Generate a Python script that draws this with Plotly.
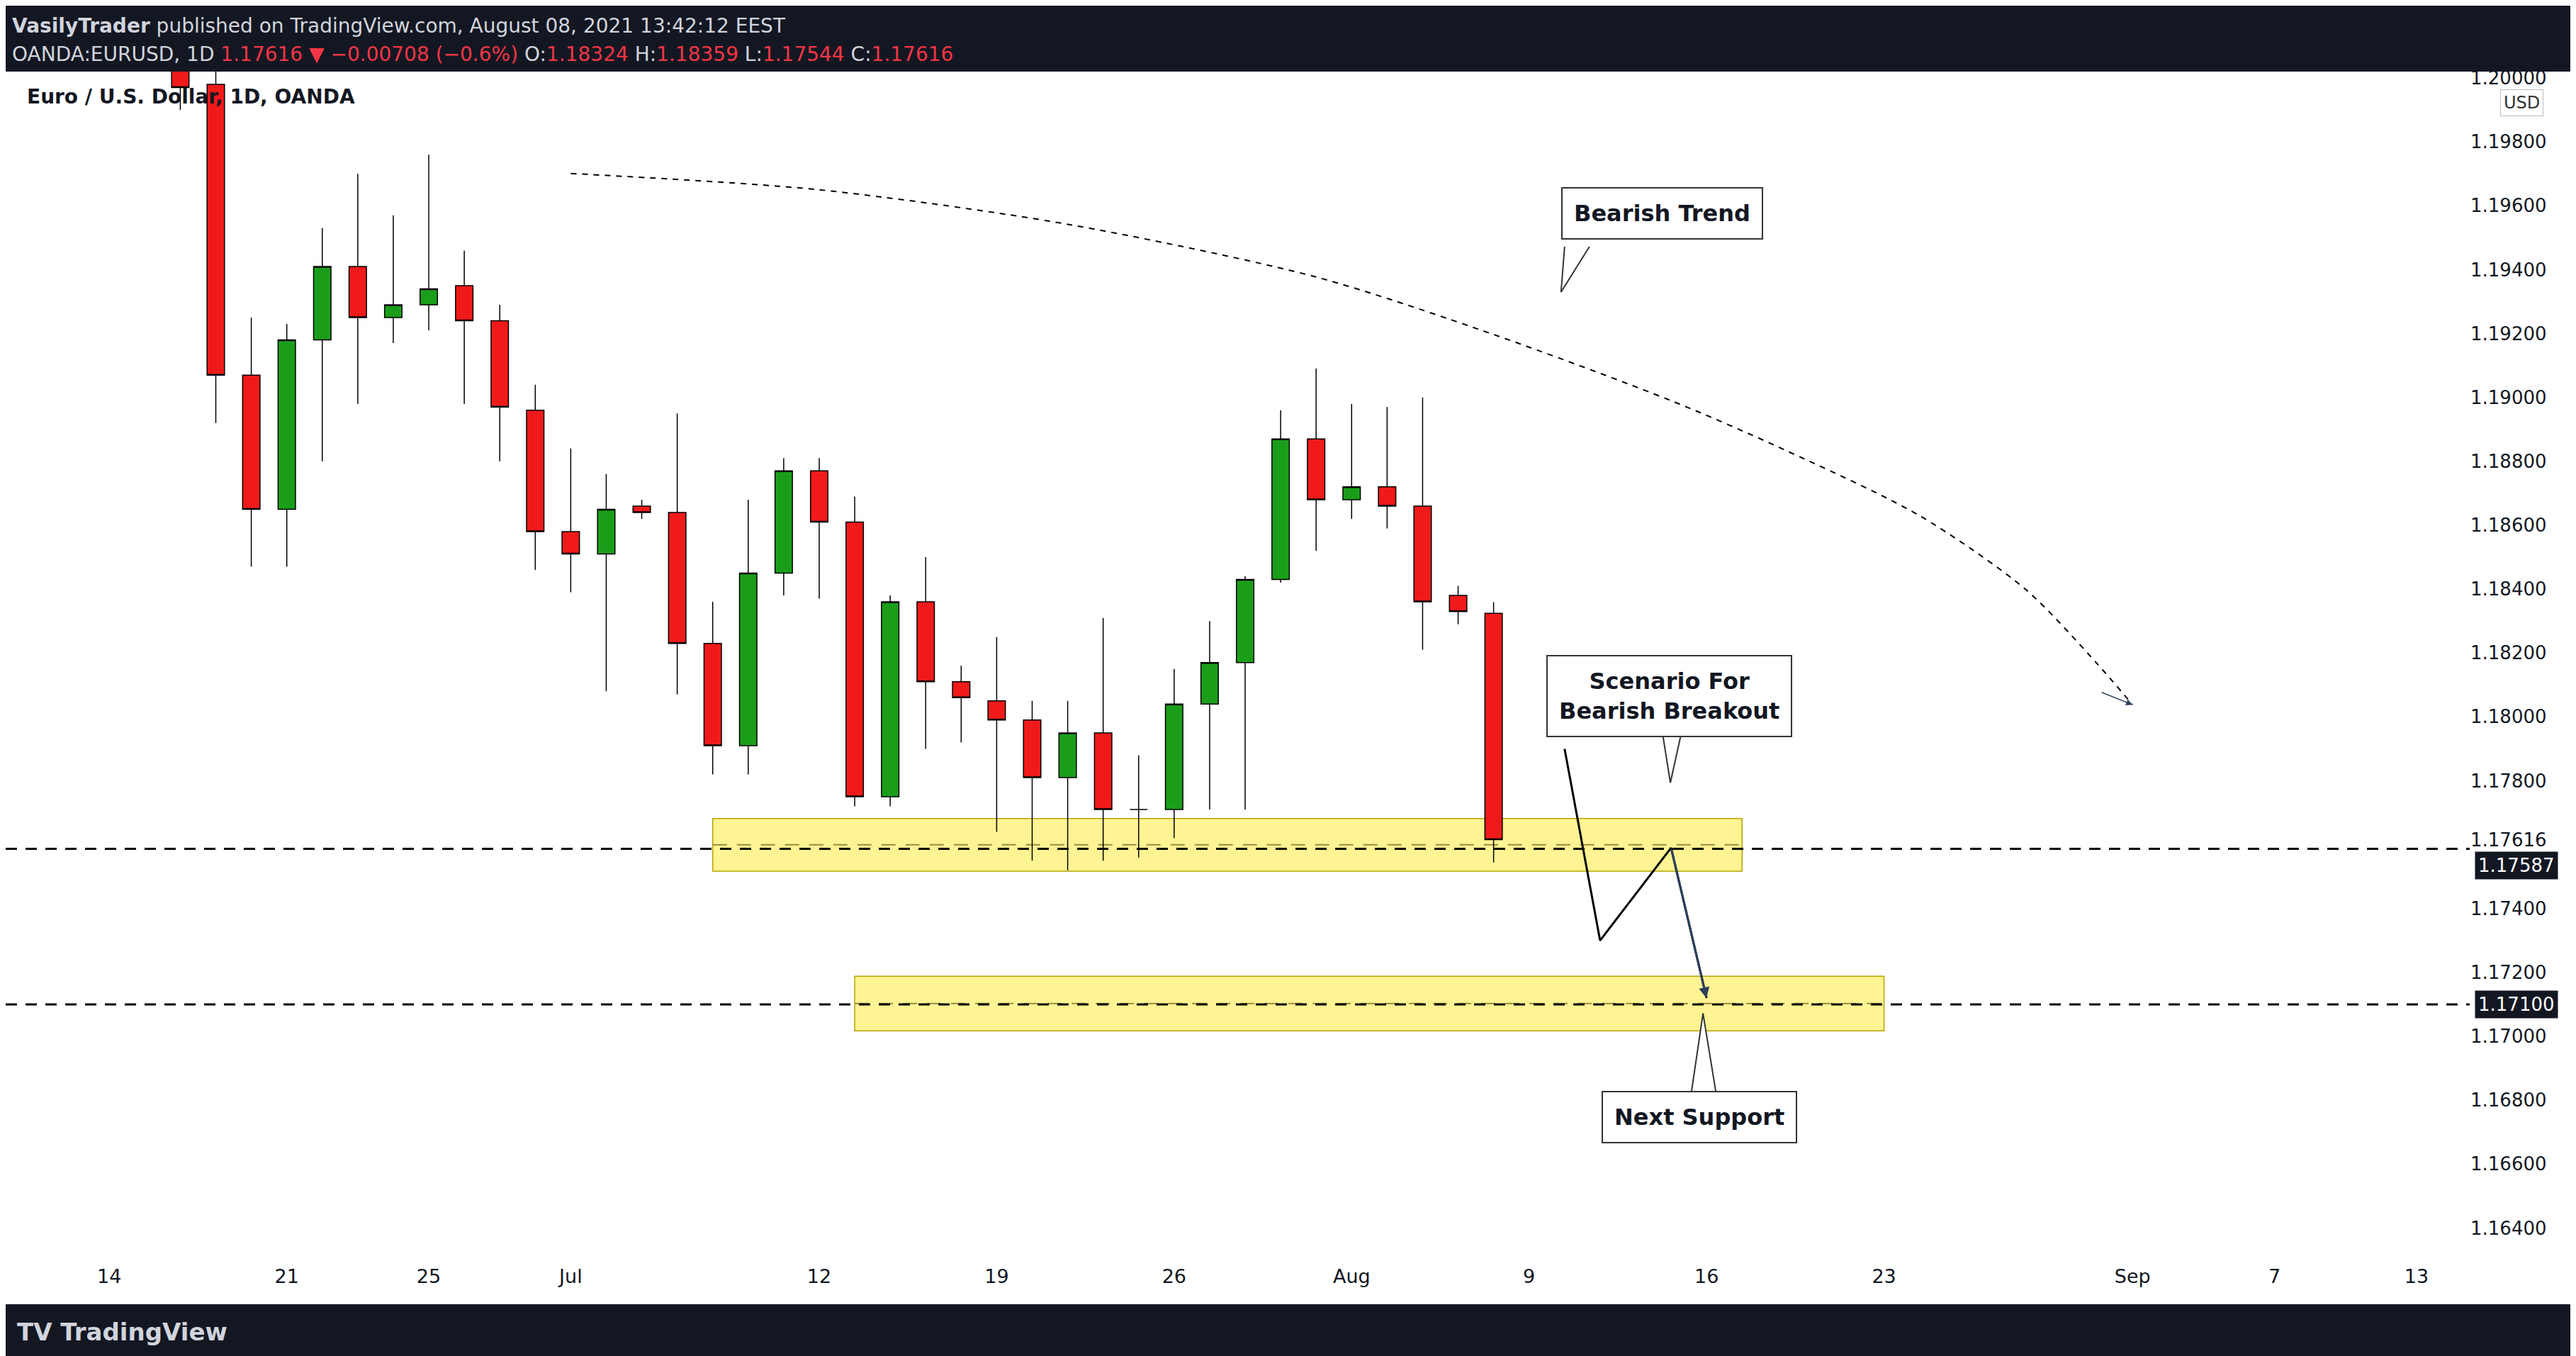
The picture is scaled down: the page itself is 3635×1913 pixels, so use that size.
import plotly.graph_objects as go
import pandas as pd

dates = ["2021-06-16","2021-06-17","2021-06-18","2021-06-21","2021-06-22","2021-06-23","2021-06-24","2021-06-25",
         "2021-06-28","2021-06-29","2021-06-30","2021-07-01","2021-07-02","2021-07-05","2021-07-06","2021-07-07",
         "2021-07-08","2021-07-09","2021-07-12","2021-07-13","2021-07-14","2021-07-15","2021-07-16","2021-07-19",
         "2021-07-20","2021-07-21","2021-07-22","2021-07-23","2021-07-26","2021-07-27","2021-07-28","2021-07-29",
         "2021-07-30","2021-08-02","2021-08-03","2021-08-04","2021-08-05","2021-08-06"]
opens  = [1.2124,1.1998,1.1907,1.1865,1.1918,1.1941,1.1925,1.1929,1.1935,1.1924,1.1896,1.1858,1.1851,1.1866,1.1864,1.1823,
          1.1791,1.1845,1.1877,1.1861,1.1775,1.1836,1.1811,1.1805,1.1799,1.1781,1.1795,1.1771,1.1771,1.1804,1.1817,1.1843,
          1.1887,1.1868,1.1872,1.1866,1.1838,1.18324]
highs  = [1.2140,1.2002,1.1925,1.1923,1.1953,1.1970,1.1957,1.1976,1.1946,1.1929,1.1904,1.1884,1.1876,1.1868,1.1895,1.1836,
          1.1868,1.1881,1.1881,1.1869,1.1838,1.1850,1.1816,1.1825,1.1805,1.1805,1.1831,1.1788,1.1815,1.1830,1.1844,1.1896,
          1.1909,1.1898,1.1897,1.1900,1.1841,1.18359]
lows   = [1.1990,1.1892,1.1847,1.1847,1.1880,1.1898,1.1917,1.1921,1.1898,1.1880,1.1846,1.1839,1.1808,1.1862,1.1807,1.1782,
          1.1782,1.1838,1.1837,1.1772,1.1772,1.1790,1.1792,1.1764,1.1755,1.1752,1.1755,1.1756,1.1762,1.1771,1.1771,1.1842,
          1.1852,1.1862,1.1859,1.1821,1.1829,1.17544]
closes = [1.1997,1.1907,1.1865,1.1918,1.1941,1.1925,1.1929,1.1934,1.1924,1.1897,1.1858,1.1851,1.1865,1.1864,1.1823,1.1791,
          1.1845,1.1877,1.1861,1.1775,1.1836,1.1811,1.1806,1.1799,1.1781,1.1795,1.1771,1.1771,1.1804,1.1817,1.1843,1.1887,
          1.1868,1.1872,1.1866,1.1836,1.1833,1.17616]

tick_dates = ["2021-06-14","2021-06-21","2021-06-25","2021-07-01","2021-07-12","2021-07-19","2021-07-26","2021-08-02",
              "2021-08-09","2021-08-16","2021-08-23","2021-09-01","2021-09-07","2021-09-13"]
tick_labels = ["14","21","25","Jul","12","19","26","Aug","9","16","23","Sep","7","13"]
price_ticks = [1.164,1.166,1.168,1.170,1.172,1.174,1.17616,1.178,1.180,1.182,1.184,1.186,1.188,1.190,1.192,1.194,1.196,1.198,1.200]
price_tick_labels = ["1.16400","1.16600","1.16800","1.17000","1.17200","1.17400","1.17616","1.17800","1.18000","1.18200",
                     "1.18400","1.18600","1.18800","1.19000","1.19200","1.19400","1.19600","1.19800","1.20000"]

support_levels = [1.17587, 1.17100]
zone1 = ("2021-07-07", "2021-08-17", 1.17517, 1.17682)
zone2 = ("2021-07-13", "2021-08-23", 1.17017, 1.17188)
trend_dates = ["2021-07-01","2021-07-12","2021-07-21","2021-07-30","2021-08-06","2021-08-13","2021-08-18",
               "2021-08-24","2021-08-27","2021-08-31","2021-09-01"]
trend_prices = [1.19701,1.19650,1.19542,1.19377,1.19197,1.18990,1.18846,1.18630,1.18398,1.18167,1.18038]
scen_dates = ["2021-08-10","2021-08-11","2021-08-13","2021-08-16"]
scen_prices = [1.1790,1.1730,1.1759,1.1712]

base = pd.Timestamp("2021-06-14")
def idx(d):
    return len(pd.bdate_range(base, pd.Timestamp(d))) - 1

xs = [idx(d) for d in dates]

GREEN, RED = "#1a9e1a", "#f01a1a"
fig = go.Figure()
fig.add_trace(go.Candlestick(x=xs, open=opens, high=highs, low=lows, close=closes,
    increasing=dict(line=dict(color="black", width=1.5), fillcolor=GREEN),
    decreasing=dict(line=dict(color="black", width=1.5), fillcolor=RED),
    whiskerwidth=0, showlegend=False, hoverinfo="skip"))

for z in (zone1, zone2):
    fig.add_shape(type="rect", x0=idx(z[0]), x1=idx(z[1]), y0=z[2], y1=z[3],
                  fillcolor="rgba(255,235,59,0.55)", line=dict(color="#b8a200", width=1.5), layer="below")
    fig.add_shape(type="line", x0=idx(z[0]), x1=idx(z[1]), y0=(z[2]+z[3])/2, y1=(z[2]+z[3])/2,
                  line=dict(color="#9a8a40", width=2, dash="20px,14px"), layer="below")
for lv in support_levels:
    fig.add_shape(type="line", xref="paper", x0=0, x1=1, y0=lv, y1=lv,
                  line=dict(color="black", width=3, dash="16px,12px"))

tx_ = [idx(d) for d in trend_dates]
fig.add_trace(go.Scatter(x=tx_, y=trend_prices, mode="lines", line=dict(color="black", width=2, dash="8px,8px", shape="spline", smoothing=0.8),
                         showlegend=False, hoverinfo="skip"))
fig.add_annotation(x=tx_[-1], y=trend_prices[-1], ax=tx_[-1]-0.9, ay=trend_prices[-1]+0.0004, axref="x", ayref="y",
                   showarrow=True, arrowhead=2, arrowwidth=1.5, arrowsize=1.2, text="")
sx = [idx(d) for d in scen_dates]
fig.add_trace(go.Scatter(x=sx, y=scen_prices, mode="lines", line=dict(color="black", width=3),
                         showlegend=False, hoverinfo="skip"))
fig.add_annotation(x=sx[-1], y=scen_prices[-1], ax=sx[-2], ay=scen_prices[-2], axref="x", ayref="y",
                   showarrow=True, arrowhead=2, arrowwidth=3, arrowsize=1, text="")

def callout(x, y, text, tail):
    fig.add_shape(type="path", path=tail, line=dict(color="#333", width=2), fillcolor="white")
    fig.add_annotation(x=x, y=y, text=text, showarrow=False, font=dict(size=32, color="#131722", family="DejaVu Sans"),
                       bgcolor="white", bordercolor="#333", borderwidth=2, borderpad=16)
callout(43.75, 1.19577, "<b>Bearish Trend</b>", "M 41.0,1.19472 L 40.9,1.19330 L 41.7,1.19472")
callout(43.95, 1.18065, "<b>Scenario For<br>Bearish Breakout</b>", "M 43.75,1.17955 L 43.98,1.17794 L 44.3,1.17955")
callout(44.8, 1.16747, "<b>Next Support</b>", "M 44.54,1.16800 L 44.9,1.17072 L 45.3,1.16800")

fig.add_annotation(xref="paper", x=1.002, y=1.17587, yshift=-24, xanchor="left", text="1.17587", showarrow=False,
                   bgcolor="#131722", font=dict(color="white", size=26), borderpad=4)
fig.add_annotation(xref="paper", x=1.002, y=1.17100, xanchor="left", text="1.17100", showarrow=False,
                   bgcolor="#131722", font=dict(color="white", size=26), borderpad=4)
fig.add_annotation(xref="paper", yref="paper", x=1.030, y=0.985, xanchor="right", text="USD", showarrow=False,
                   bordercolor="#bbb", borderwidth=1, borderpad=4, font=dict(color="#333", size=24))

fig.add_annotation(xref="paper", yref="paper", x=0.002, y=1, yshift=46, xanchor="left", yanchor="bottom", showarrow=False,
                   text="<b>VasilyTrader</b> published on TradingView.com, August 08, 2021 13:42:12 EEST",
                   font=dict(color="#d1d4dc", size=28))
fig.add_annotation(xref="paper", yref="paper", x=0.002, y=1, yshift=6, xanchor="left", yanchor="bottom", showarrow=False,
                   text="OANDA:EURUSD, 1D <span style='color:#f23645'>1.17616 ▼ −0.00708 (−0.6%)</span> O:<span style='color:#f23645'>1.18324</span> H:<span style='color:#f23645'>1.18359</span> L:<span style='color:#f23645'>1.17544</span> C:<span style='color:#f23645'>1.17616</span>",
                   font=dict(color="#d1d4dc", size=28))
fig.add_annotation(xref="paper", yref="paper", x=0.008, y=0.99, xanchor="left", yanchor="top", showarrow=False,
                   text="<b>Euro / U.S. Dollar, 1D, OANDA</b>", font=dict(color="#131722", size=28))
fig.add_annotation(xref="paper", yref="paper", x=0.004, y=-0.058, xanchor="left", yanchor="middle", showarrow=False,
                   text="<b>TV TradingView</b>", font=dict(color="#d1d4dc", size=34))

W, H = 3635, 1913
L, R, T, B = 0, 158, 93, 139
pw, ph = W - L - R, H - T - B
fig.add_shape(type="rect", xref="paper", yref="paper", x0=0, x1=1 + R / pw, y0=-58 / ph, y1=1,
              fillcolor="white", line=dict(width=0), layer="below")

fig.update_layout(width=W, height=H, margin=dict(l=L, r=R, t=T, b=B),
                  paper_bgcolor="#131722", plot_bgcolor="white",
                  font=dict(family="DejaVu Sans", color="#131722"),
                  xaxis=dict(range=[-2.92, 66.5], tickvals=[idx(d) for d in tick_dates], ticktext=tick_labels,
                             showgrid=False, zeroline=False, rangeslider=dict(visible=False),
                             tickfont=dict(size=27, color="#131722"), ticks="", showline=False),
                  yaxis=dict(side="right", range=[1.1629, 1.2002], tickvals=price_ticks, ticktext=price_tick_labels,
                             showgrid=False, zeroline=False, tickfont=dict(size=26, color="#131722"),
                             ticks="", showline=False))
fig.write_html("out.html")
